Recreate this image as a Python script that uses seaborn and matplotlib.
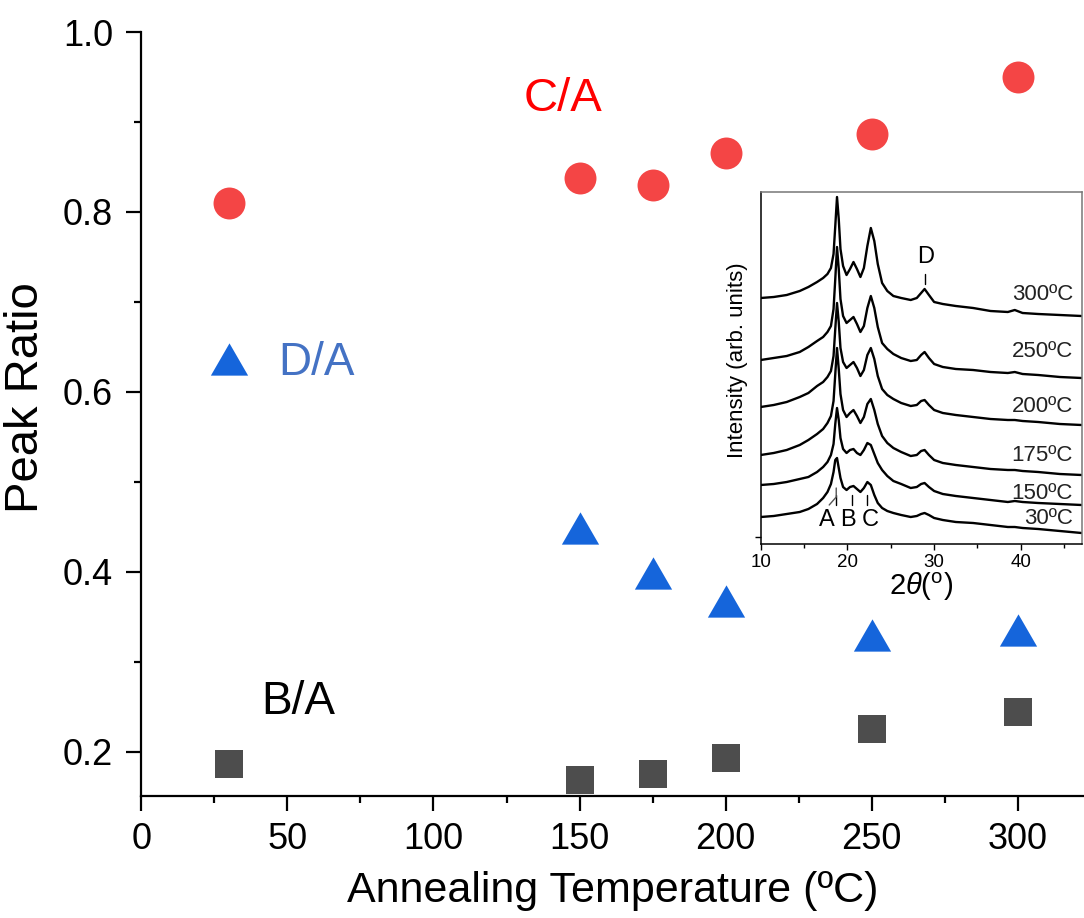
import numpy as np
import pandas as pd
import matplotlib
matplotlib.use("Agg")
import matplotlib.pyplot as plt
import seaborn as sns
from matplotlib.ticker import MultipleLocator, FixedLocator

# ---------------- main chart data ----------------
temps = [30, 150, 175, 200, 250, 300]
ratio_CA = [0.810, 0.838, 0.830, 0.866, 0.887, 0.950]
ratio_DA = [0.637, 0.449, 0.399, 0.368, 0.330, 0.335]
ratio_BA = [0.187, 0.169, 0.176, 0.193, 0.225, 0.244]
series_names = ["C/A", "D/A", "B/A"]

# ---------------- inset XRD data (arb. units) ----------------
two_theta = [10, 11.5, 13, 14.5, 15.5, 16.5, 17.2, 17.7, 18.1, 18.4, 18.6, 18.8, 19.0, 19.2,
             19.5, 19.9, 20.3, 20.7, 21.1, 21.5, 21.9, 22.3, 22.7, 23.1, 23.5, 24.0, 24.6,
             25.3, 26.2, 27.3, 28.0, 28.5, 28.9, 29.4, 30.0, 31.0, 32.5, 34.5, 36.5, 38.5,
             39.3, 40.2, 42, 44.5, 47]
xrd_300 = [246, 247, 249, 253, 257, 262, 266, 270, 276, 290, 318, 347, 325, 295,
           278, 269, 275, 282, 275, 267, 276, 298, 316, 303, 280, 261, 253,
           248, 246, 244, 246, 251, 255, 249, 242, 240, 238, 236, 233, 232,
           234, 231, 230, 229, 228]
xrd_250 = [184, 186, 188, 192, 197, 203, 207, 212, 218, 235, 265, 297, 275, 245,
           228, 221, 224, 227, 220, 212, 218, 236, 248, 236, 217, 201, 195,
           190, 186, 183, 184, 189, 192, 186, 180, 177, 175, 174, 172, 171,
           172, 170, 169, 167, 166]
xrd_200 = [137, 139, 142, 147, 151, 158, 162, 167, 173, 188, 215, 241, 222, 196,
           182, 176, 179, 182, 176, 168, 174, 189, 196, 185, 168, 155, 149,
           145, 141, 138, 139, 143, 144, 139, 134, 131, 129, 127, 125, 124,
           124, 123, 122, 120, 119]
xrd_175 = [89, 91, 94, 99, 104, 110, 115, 121, 128, 143, 170, 196, 175, 150,
           134, 127, 131, 134, 128, 121, 127, 140, 145, 134, 120, 108, 101,
           96, 92, 88, 89, 93, 94, 89, 84, 81, 79, 77, 75, 74,
           74, 73, 72, 70, 69]
xrd_150 = [59, 60, 62, 65, 67, 72, 77, 82, 89, 100, 120, 136, 124, 106,
           95, 91, 94, 95, 91, 89, 94, 101, 99, 90, 81, 74, 68,
           63, 60, 56, 57, 60, 61, 57, 53, 50, 48, 46, 44, 42,
           43, 42, 41, 40, 39]
xrd_30 = [27, 28, 30, 32, 35, 40, 46, 52, 60, 72, 84, 86, 76, 66,
          57, 54, 57, 58, 55, 52, 56, 62, 59, 49, 41, 36, 33,
          31, 29, 27, 28, 30, 31, 29, 26, 24, 22, 21, 19, 17,
          17, 16, 15, 13, 11]
curve_labels = ["300ºC", "250ºC", "200ºC", "175ºC", "150ºC", "30ºC"]
label_levels = [249, 192, 137, 88, 50, 26]
peak_names = ["A", "B", "C"]
peak_pos = [18.71, 20.54, 22.26]

sns.set_theme(style="ticks")
plt.rcParams["font.family"] = ["Liberation Sans", "DejaVu Sans"]
plt.rcParams["mathtext.fontset"] = "custom"
plt.rcParams["mathtext.it"] = "Liberation Sans:italic"
plt.rcParams["mathtext.rm"] = "Liberation Sans"
for k in ["text.color", "axes.labelcolor", "xtick.color", "ytick.color", "axes.edgecolor"]:
    plt.rcParams[k] = "black"

W, H = 1084, 918
fig = plt.figure(figsize=(W / 100, H / 100), dpi=100)
x0, yb, yt = 141.4, 796, 32
ax = fig.add_axes([x0 / W, 1 - yb / H, (W - x0) / W, (yb - yt) / H])

red = "#F44545"
blue = "#1565DB"
gray = "#4D4D4D"

df = pd.DataFrame({
    "T": temps * 3,
    "ratio": ratio_CA + ratio_DA + ratio_BA,
    "series": sum([[n] * len(temps) for n in series_names], []),
})
tri = [(0, 0.866), (-1, -0.866), (1, -0.866)]
sns.scatterplot(data=df[df.series == "C/A"], x="T", y="ratio", color=red, marker="o",
                s=529, linewidth=0, ax=ax, legend=False, clip_on=False, zorder=3)
sns.scatterplot(data=df[df.series == "D/A"], x="T", y="ratio", color=blue, marker=tri,
                s=720, linewidth=0, ax=ax, legend=False, clip_on=False, zorder=3)
sns.scatterplot(data=df[df.series == "B/A"], x="T", y="ratio", color=gray, marker="s",
                s=380, linewidth=0, ax=ax, legend=False, clip_on=False, zorder=3)

ax.set_xlim(0, (W - x0) / 2.921)
ax.set_ylim(0.151, 1.0)
ax.xaxis.set_major_locator(MultipleLocator(50))
ax.xaxis.set_minor_locator(MultipleLocator(25))
ax.yaxis.set_major_locator(FixedLocator([0.2, 0.4, 0.6, 0.8, 1.0]))
ax.yaxis.set_minor_locator(FixedLocator([0.3, 0.5, 0.7, 0.9]))
ax.set_yticklabels(["0.2", "0.4", "0.6", "0.8", "1.0"])
sns.despine(ax=ax)
for s in ["left", "bottom"]:
    ax.spines[s].set_linewidth(1.6)
    ax.spines[s].set_color("black")
ax.tick_params(which="major", length=10.5, width=1.6, labelsize=26, color="black")
ax.tick_params(axis="y", which="major", pad=10)
ax.tick_params(axis="x", which="major", pad=8)
ax.tick_params(which="minor", length=5.3, width=1.6, color="black")
ax.set_xlabel("Annealing Temperature (ºC)", fontsize=31, labelpad=10)
ax.set_ylabel("Peak Ratio", fontsize=34)
ax.yaxis.set_label_coords(-0.099, 0.521)

ax.text(144.3, 0.925, "C/A", color="#FF0000", fontsize=34, ha="center", va="center")
ax.text(60.0, 0.632, "D/A", color="#4472C4", fontsize=33, ha="center", va="center")
ax.text(53.7, 0.2556, "B/A", color="black", fontsize=33, ha="center", va="center")

# ---------------- inset ----------------
ix0, ixb, iyt = 760.7, 544, 192
ins = fig.add_axes([ix0 / W, 1 - ixb / H, (W - ix0) / W - 0.002, (ixb - iyt) / H])
curves = [xrd_300, xrd_250, xrd_200, xrd_175, xrd_150, xrd_30]
long = pd.DataFrame({
    "theta": two_theta * len(curves),
    "I": sum(curves, []),
    "curve": sum([[lab] * len(two_theta) for lab in curve_labels], []),
})
sns.lineplot(data=long, x="theta", y="I", units="curve", estimator=None, sort=False,
             color="black", lw=1.7, ax=ins, legend=False)
ins.set_xlim(10, 10 + (W - ix0) / 8.73)
ins.set_ylim(0, ixb - iyt)
ins.xaxis.set_major_locator(MultipleLocator(10))
ins.xaxis.set_minor_locator(MultipleLocator(5))
ins.yaxis.set_major_locator(FixedLocator([7]))
ins.set_yticklabels([])
for s in ins.spines.values():
    s.set_linewidth(1.1)
    s.set_color("black")
ins.spines["top"].set_color("#777777")
ins.spines["right"].set_color("#777777")
ins.tick_params(which="major", length=4, width=1.0, labelsize=13.5, pad=3, color="black")
ins.tick_params(which="minor", length=3, width=1.0, color="black")
ins.set_xlabel(r"2$\it{\theta}$($^{\rm o}$)", fontsize=21, labelpad=0)
ins.set_ylabel("Intensity (arb. units)", fontsize=16)
ins.yaxis.set_label_coords(-0.039, 0.523)
ins.patch.set_alpha(0)

for lab, lev in zip(curve_labels, label_levels):
    ins.text(46.0, lev, lab, fontsize=16, ha="right", va="center", color="#222222")
for name, p in zip(peak_names, peak_pos):
    ins.plot([p, p], [39, 49], color="black", lw=1.0)
ins.plot([18.71, 18.71, 17.9], [56, 47, 39], color="#555555", lw=1.0)
ins.text(17.63, 24, "A", fontsize=17, ha="center", va="center")
ins.text(20.03, 24, "B", fontsize=17, ha="center", va="center")
ins.text(22.6, 24, "C", fontsize=17, ha="center", va="center")
ins.plot([29.0, 29.0], [260, 270], color="black", lw=1.0)
ins.text(29.0, 287, "D", fontsize=17, ha="center", va="center")

fig.savefig("out.png", dpi=100)
